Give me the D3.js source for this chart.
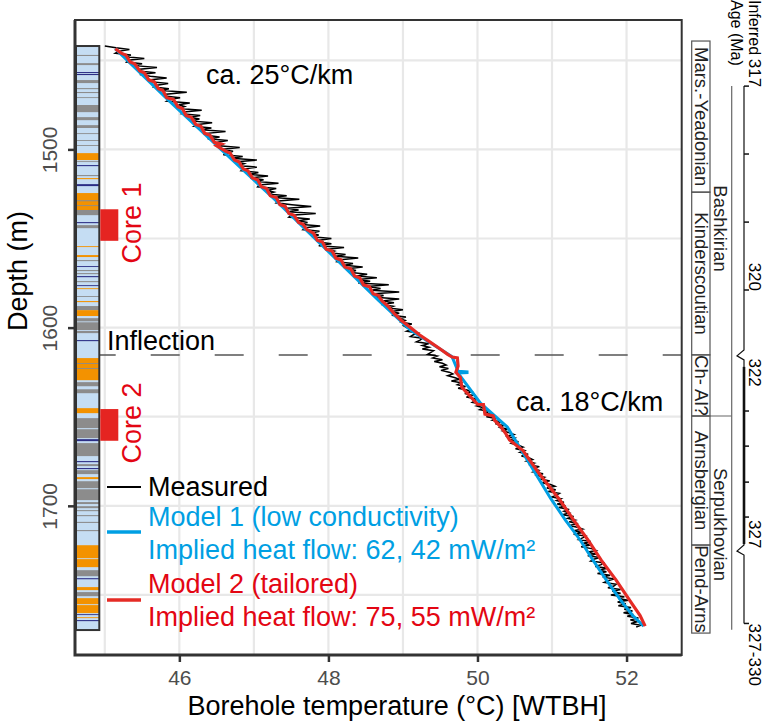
<!DOCTYPE html>
<html>
<head>
<meta charset="utf-8">
<script src="https://cdn.jsdelivr.net/npm/d3@7/dist/d3.min.js"></script>
<style>
body { margin: 0; background: #fff; }
text { font-family: "Liberation Sans", Arial, Helvetica, sans-serif; }
</style>
</head>
<body>
<div id="chart"></div>
<script>

// axis ticks and grid
var tempTicks = [46, 48, 50, 52];
var depthTicks = [1500, 1600, 1700];
var tempGrid = [45, 46, 47, 48, 49, 50, 51, 52];
var depthGrid = [1450, 1500, 1550, 1600, 1650, 1700, 1750];

// measured log, 1 m readings (depth m, temperature degC)
var measuredDepth = [
  1442,1443,1444,1445,1446,1447,1448,1449,1450,1451,1452,1453,1454,1455,1456,1457,1458,1459,1460,1461,
  1462,1463,1464,1465,1466,1467,1468,1469,1470,1471,1472,1473,1474,1475,1476,1477,1478,1479,1480,1481,
  1482,1483,1484,1485,1486,1487,1488,1489,1490,1491,1492,1493,1494,1495,1496,1497,1498,1499,1500,1501,
  1502,1503,1504,1505,1506,1507,1508,1509,1510,1511,1512,1513,1514,1515,1516,1517,1518,1519,1520,1521,
  1522,1523,1524,1525,1526,1527,1528,1529,1530,1531,1532,1533,1534,1535,1536,1537,1538,1539,1540,1541,
  1542,1543,1544,1545,1546,1547,1548,1549,1550,1551,1552,1553,1554,1555,1556,1557,1558,1559,1560,1561,
  1562,1563,1564,1565,1566,1567,1568,1569,1570,1571,1572,1573,1574,1575,1576,1577,1578,1579,1580,1581,
  1582,1583,1584,1585,1586,1587,1588,1589,1590,1591,1592,1593,1594,1595,1596,1597,1598,1599,1600,1601,
  1602,1603,1604,1605,1606,1607,1608,1609,1610,1611,1612,1613,1614,1615,1616,1617,1618,1619,1620,1621,
  1622,1623,1624,1625,1626,1627,1628,1629,1630,1631,1632,1633,1634,1635,1636,1637,1638,1639,1640,1641,
  1642,1643,1644,1645,1646,1647,1648,1649,1650,1651,1652,1653,1654,1655,1656,1657,1658,1659,1660,1661,
  1662,1663,1664,1665,1666,1667,1668,1669,1670,1671,1672,1673,1674,1675,1676,1677,1678,1679,1680,1681,
  1682,1683,1684,1685,1686,1687,1688,1689,1690,1691,1692,1693,1694,1695,1696,1697,1698,1699,1700,1701,
  1702,1703,1704,1705,1706,1707,1708,1709,1710,1711,1712,1713,1714,1715,1716,1717,1718,1719,1720,1721,
  1722,1723,1724,1725,1726,1727,1728,1729,1730,1731,1732,1733,1734,1735,1736,1737,1738,1739,1740,1741,
  1742,1743,1744,1745,1746,1747,1748,1749,1750,1751,1752,1753,1754,1755,1756,1757,1758,1759,1760,1761,
  1762,1763,1764,1765,1766,1767,1768];
var measuredTemp = [
  45.00,45.15,45.33,45.18,45.14,45.35,45.28,45.53,45.31,45.29,
  45.50,45.40,45.70,45.47,45.45,45.68,45.47,45.61,45.83,45.60,
  45.61,45.85,45.70,45.66,45.86,45.76,46.10,45.82,45.80,46.01,
  45.87,45.83,46.14,45.99,46.07,45.99,46.30,46.06,46.03,46.28,
  46.14,46.27,46.15,46.44,46.25,46.20,46.43,46.30,46.62,46.37,
  46.36,46.54,46.38,46.65,46.51,46.58,46.53,46.81,46.55,46.72,
  46.65,46.59,46.85,46.70,47.04,46.77,46.87,46.79,47.04,46.86,
  46.83,47.06,46.95,47.19,46.95,47.13,47.04,47.33,47.07,47.05,
  47.30,47.18,47.27,47.19,47.44,47.26,47.61,47.33,47.30,47.51,
  47.77,47.44,47.60,47.46,47.83,47.50,47.47,47.75,47.60,47.72,
  47.61,47.89,47.69,47.66,47.88,47.76,47.87,47.78,48.04,47.88,
  47.87,48.04,47.87,48.21,47.99,48.08,48.01,48.23,48.10,48.40,
  48.13,48.11,48.33,48.22,48.46,48.25,48.37,48.28,48.52,48.38,
  48.65,48.40,48.56,48.40,48.81,48.52,48.70,48.58,48.95,48.61,
  48.74,48.63,48.95,48.72,48.88,48.71,48.87,48.81,49.00,48.85,
  48.95,48.85,49.04,48.95,49.03,48.98,49.12,49.01,49.05,
  49.11,49.05,49.20,49.14,49.10,49.26,49.23,49.18,49.35,49.26,49.35,49.26,49.41,49.37,
  49.33,49.46,49.40,49.53,49.42,49.53,49.58,49.49,49.61,49.51,49.62,
  49.67,49.60,49.69,49.76,49.65,49.78,49.73,49.84,49.74,49.86,49.92,49.83,49.93,49.85,49.99,49.97,49.93,50.07,49.99,50.08,
  50.03,50.15,50.12,50.22,50.12,50.25,50.20,50.33,50.24,50.35,50.30,
  50.41,50.34,50.43,50.49,50.38,50.50,50.44,50.55,50.46,50.55,50.61,50.51,50.63,
  50.57,50.68,50.59,50.69,50.74,50.66,50.76,50.69,50.83,50.75,50.82,50.75,50.88,
  50.80,50.90,50.85,50.97,50.86,50.98,51.04,50.93,51.05,50.95,51.10,51.06,51.00,51.12,51.06,
  51.16,51.07,51.18,51.09,51.23,51.16,51.23,51.14,51.29,51.21,51.31,
  51.23,51.35,51.23,51.34,51.41,51.29,51.41,51.29,51.45,51.41,
  51.36,51.52,51.42,51.52,51.39,51.53,51.59,51.47,51.59,51.48,
  51.64,51.56,51.52,51.69,51.66,51.58,51.75,51.63,51.73,51.61,
  51.78,51.68,51.84,51.75,51.70,51.86,51.83,51.75,51.92,51.81,
  51.92,51.79,51.97,51.89,52.02,51.88,51.99,51.89,52.06,51.97,
  52.08,51.96,52.09,52.01,52.16,52.05,52.14,52.06,52.19,52.13];

// model 1 (low conductivity)
var model1Depth = [1443.5,1472.3,1500.4,1528.5,1544.7,1584.6,1601.4,1616.4,1624.5,1624.8,1625.2,1625.5,1642.4,1655.8,1695.7,1708.0,1719.3,1730.5,1741.7,1752.9,1761.4,1767.5];
var model1Temp = [45.14,45.85,46.57,47.29,47.69,48.67,49.10,49.66,49.74,49.86,49.86,49.74,50.04,50.40,50.98,51.18,51.38,51.55,51.73,51.92,52.08,52.23];

// model 2 (tailored)
var model2Depth = [1443.5,1446,1447,1451,1452,1456,1457,1461,1462,1466,1467,1471,1472,1476,1477,1481,1482,1486,1487,1491,
  1492,1496,1497,1498,1501,1502,1506,1507,1511,1512,1516,1517,1521,1522,1526,1527,1531,1532,1536,1537,
  1541,1542,1545,1547,1551,1552,1556,1557,1561,1562,1566,1567,1571,1572,1576,1577,1581,1582,1585,1588,
  1592,1596,1600,1604,1608,1612,1615,1616.5,1617,1621.5,1625,1628,1633.5,1643,1643.2,1648.5,1649.5,1652,1655.5,1659.5,
  1663,1669,1682,1697,1708,1719,1730.5,1741.7,1752.9,1761.4,1767.5];
var model2Temp = [45.14,45.22,45.28,45.34,45.40,45.47,45.53,45.59,45.66,45.72,45.78,45.83,45.92,45.98,46.04,46.09,46.16,46.22,46.29,46.34,
  46.41,46.47,46.56,46.50,46.62,46.68,46.74,46.80,46.86,46.92,46.98,47.05,47.10,47.17,47.22,47.30,47.35,47.42,47.47,47.54,
  47.60,47.66,47.71,47.80,47.85,47.92,47.97,48.05,48.10,48.17,48.22,48.30,48.35,48.42,48.47,48.55,48.60,48.67,48.72,48.80,
  48.88,48.98,49.10,49.22,49.36,49.50,49.60,49.66,49.73,49.74,49.71,49.77,49.79,50.00,50.08,50.10,50.21,50.23,50.31,50.38,
  50.43,50.61,50.83,51.11,51.29,51.48,51.66,51.86,52.04,52.18,52.25];

// lithology log
var lithTop = [1447.0,1451.6,1456.6,1457.7,1461.1,1465.6,1467.8,1470.7,1475.1,1481.9,1486.4,1490.9,1494.8,1497.6,1502.1,1506.6,1508.8,1514.4,1516.1,1519.5,
  1524.5,1528.5,1531.3,1534.0,1540.8,1542.5,1554.3,1559.3,1562.1,1565.5,1567.7,1569.4,1571.1,1573.9,1576.2,1577.9,1582.3,1585.1,1587.9,1590.2,
  1594.7,1596.5,1601.9,1607.0,1617.1,1619.9,1622.7,1630.6,1634.6,1645.2,1650.8,1656.4,1662.6,1664.8,1674.9,1676.6,1678.8,1680.0,1683.9,1686.2,
  1690.1,1697.9,1700.2,1702.4,1705.2,1709.0,1713.6,1722.1,1729.4,1736.1,1740.6,1745.6,1748.4,1751.8,1755.2,1760.8,1762.5,1764.1];
var lithBase = [1447.6,1452.7,1457.2,1458.3,1462.8,1466.2,1468.4,1471.2,1479.1,1483.6,1488.0,1491.4,1495.3,1498.1,1506.0,1507.1,1509.4,1515.0,1516.7,1520.6,
  1535.7,1529.1,1531.8,1536.9,1541.4,1544.2,1554.8,1560.4,1562.7,1566.0,1568.3,1570.0,1571.7,1574.5,1576.7,1578.4,1582.8,1585.7,1590.2,1593.5,
  1601.4,1597.0,1603.1,1607.6,1629.5,1620.4,1623.2,1632.9,1636.8,1648.0,1662.0,1657.0,1663.7,1672.1,1675.5,1677.7,1679.4,1682.2,1685.0,1696.8,
  1690.7,1699.0,1701.3,1703.0,1705.8,1709.6,1714.2,1734.4,1729.9,1739.5,1741.2,1747.3,1750.7,1760.2,1755.7,1761.3,1763.0,1764.7];
var lithType = ['G','G','N','N','G','G','G','G','G','G','G','G','G','G','O','G','N','G','O','N',
  'O','G','G','G','N','G','O','O','G','N','G','G','N','G','N','O','G','O','G','O',
  'G','L','G','N','O','G','G','G','G','O','G','L','N','G','N','G','N','G','O','G',
  'L','G','G','G','G','G','G','O','L','G','N','O','G','O','L','N','O','N'];
var lithLogTop = 1442.0, lithLogBase = 1769.7;

var coreNames = ['Core 1', 'Core 2'];
var coreTop = [1533.6, 1645.7];
var coreBase = [1551.3, 1663.5];

// stratigraphy
var stageNames = ['Mars.-Yeadonian', 'Kinderscoutian', 'Ch- Al?', 'Arnsbergian', 'Pend-Arns'];
var stageTop = [1439.2, 1524.0, 1615.3, 1649.6, 1722.0];
var stageBase = [1524.0, 1615.3, 1649.6, 1722.0, 1771.4];
var seriesNames = ['Bashkirian', 'Serpukhovian'];
var seriesTop = [1439.2, 1649.6];
var seriesBase = [1649.6, 1771.4];
var ageTickDepth = [1464.5, 1502.6, 1540.8, 1578.9, 1646.8, 1666.5, 1686.7, 1706.3, 1766.0];
var ageBreakDepth = [1615.3, 1724.8];
var ageLabels = ['317', '320', '322', '327', '327-330'];
var ageLabelDepth = [1464.5, 1578.9, 1617.3, 1723.3, 1766.0];
var ageLabelAnchor = ['end', 'end', 'start', 'end', 'start'];

var inflectionDepth = 1615.3;

var width = 768;
var height = 723;

var colors = { L: '#c5ddf3', G: '#8c8c8c', O: '#f39200', N: '#2b2d84' };
var blue = '#009fe3';
var red = '#e30613';

var svg = d3.select('#chart')
  .append('svg')
  .attr('width', width)
  .attr('height', height);

var x = d3.scaleLinear().domain([44.6, 52.74]).range([75, 681.7]);
var y = d3.scaleLinear().domain([1427.4, 1783.7]).range([20, 655]);

// grid
svg.selectAll('.vgrid')
  .data(tempGrid)
  .enter()
  .append('line')
  .attr('x1', function(d) { return x(d); })
  .attr('x2', function(d) { return x(d); })
  .attr('y1', 20).attr('y2', 655)
  .attr('stroke', '#e8e8e8')
  .attr('stroke-width', 2.2);

svg.selectAll('.hgrid')
  .data(depthGrid)
  .enter()
  .append('line')
  .attr('y1', function(d) { return y(d); })
  .attr('y2', function(d) { return y(d); })
  .attr('x1', 75).attr('x2', 681.7)
  .attr('stroke', '#e8e8e8')
  .attr('stroke-width', 2.2);

// inflection
svg.append('line')
  .attr('x1', 75).attr('x2', 681.7)
  .attr('y1', y(inflectionDepth)).attr('y2', y(inflectionDepth))
  .attr('stroke', '#555')
  .attr('stroke-width', 1.5)
  .attr('stroke-dasharray', '29,35')
  .attr('stroke-dashoffset', 52.3);

svg.append('text')
  .attr('x', 107).attr('y', y(inflectionDepth) - 5)
  .attr('style', 'font-size: 27px')
  .text('Inflection');

svg.append('text')
  .attr('x', 206).attr('y', 84)
  .attr('style', 'font-size: 27px')
  .text('ca. 25°C/km');

svg.append('text')
  .attr('x', 516).attr('y', 411)
  .attr('style', 'font-size: 27px')
  .text('ca. 18°C/km');

// curves
var line = d3.line()
  .x(function(d) { return x(d[1]); })
  .y(function(d) { return y(d[0]); });

svg.append('path')
  .attr('d', line(d3.zip(measuredDepth, measuredTemp)))
  .attr('fill', 'none')
  .attr('stroke', '#000')
  .attr('stroke-width', 1.5)
  .attr('stroke-linejoin', 'miter');

svg.append('path')
  .attr('d', line(d3.zip(model1Depth, model1Temp)))
  .attr('fill', 'none')
  .attr('stroke', blue)
  .attr('stroke-width', 3);

svg.append('path')
  .attr('d', line(d3.zip(model2Depth, model2Temp)))
  .attr('fill', 'none')
  .attr('stroke', '#e52b25')
  .attr('stroke-width', 3.2);

// lithology column
var colX = 76, colW = 23.3;
svg.append('rect')
  .attr('x', colX).attr('width', colW)
  .attr('y', y(lithLogTop)).attr('height', y(lithLogBase) - y(lithLogTop))
  .attr('fill', colors.L);

svg.selectAll('.lith')
  .data(lithTop)
  .enter()
  .append('rect')
  .attr('x', colX).attr('width', colW)
  .attr('y', function(d) { return y(d); })
  .attr('height', function(d, i) { return y(lithBase[i]) - y(d); })
  .attr('fill', function(d, i) { return colors[lithType[i]]; });

svg.append('rect')
  .attr('x', colX).attr('width', colW)
  .attr('y', y(lithLogTop)).attr('height', y(lithLogBase) - y(lithLogTop))
  .attr('fill', 'none')
  .attr('stroke', '#333')
  .attr('stroke-width', 2);

svg.selectAll('.core')
  .data(coreNames)
  .enter()
  .append('rect')
  .attr('x', 100.3).attr('width', 18)
  .attr('y', function(d, i) { return y(coreTop[i]); })
  .attr('height', function(d, i) { return y(coreBase[i]) - y(coreTop[i]); })
  .attr('fill', '#e52421');

svg.selectAll('.coreLabel')
  .data(coreNames)
  .enter()
  .append('text')
  .attr('transform', function(d, i) {
    var yc = (y(coreTop[i]) + y(coreBase[i])) / 2 - 2;
    return 'translate(141,' + yc + ') rotate(-90)';
  })
  .attr('text-anchor', 'middle')
  .attr('fill', red)
  .attr('style', 'font-size: 27px')
  .text(function(d) { return d; });

// legend
var legendRows = [
  { y: 487, color: '#000', w: 2, lines: [[496, 'Measured']] },
  { y: 532, color: blue, w: 3.5, lines: [[526, 'Model 1 (low conductivity)'], [559, 'Implied heat flow: 62, 42 mW/m²']] },
  { y: 600, color: '#e52b25', w: 3.5, lines: [[593, 'Model 2 (tailored)'], [626, 'Implied heat flow: 75, 55 mW/m²']] }
];
legendRows.forEach(function(r) {
  svg.append('line')
    .attr('x1', 107).attr('x2', 141)
    .attr('y1', r.y).attr('y2', r.y)
    .attr('stroke', r.color)
    .attr('stroke-width', r.w);
  r.lines.forEach(function(t) {
    svg.append('text')
      .attr('x', 148).attr('y', t[0])
      .attr('fill', r.color === '#e52b25' ? red : r.color)
      .attr('style', 'font-size: 27px')
      .text(t[1]);
  });
});

// frame + axes
svg.append('rect')
  .attr('x', 75).attr('y', 20)
  .attr('width', 606.7).attr('height', 635)
  .attr('fill', 'none')
  .attr('stroke', '#333')
  .attr('stroke-width', 2);

svg.append('path')
  .attr('d', 'M75,20V655H681.7')
  .attr('fill', 'none')
  .attr('stroke', '#333')
  .attr('stroke-width', 3);

var xAxis = svg.append('g')
  .attr('transform', 'translate(0,655)')
  .call(d3.axisBottom(x).tickValues(tempTicks).tickSize(7).tickPadding(8));
xAxis.select('.domain').remove();
xAxis.selectAll('line').attr('stroke', '#333').attr('stroke-width', 2.5);
xAxis.selectAll('text')
  .attr('fill', '#4d4d4d')
  .attr('style', 'font-size: 21px');

var yAxis = svg.append('g')
  .attr('transform', 'translate(75,0)')
  .call(d3.axisLeft(y).tickValues(depthTicks).tickFormat(d3.format('d')).tickSize(7));
yAxis.select('.domain').remove();
yAxis.selectAll('line').attr('stroke', '#333').attr('stroke-width', 2.5);
yAxis.selectAll('text')
  .attr('transform', 'rotate(-90)')
  .attr('x', 0).attr('y', -18).attr('dy', 0)
  .attr('text-anchor', 'middle')
  .attr('fill', '#4d4d4d')
  .attr('style', 'font-size: 21px');

svg.append('text')
  .attr('x', 397).attr('y', 715)
  .attr('text-anchor', 'middle')
  .attr('style', 'font-size: 27px')
  .text('Borehole temperature (°C) [WTBH]');

svg.append('text')
  .attr('transform', 'translate(27,271) rotate(-90)')
  .attr('text-anchor', 'middle')
  .attr('style', 'font-size: 27px')
  .text('Depth (m)');

// stratigraphic panel
var sx0 = 691.7, sx1 = 710, sx2 = 731.7, ax = 744;

svg.selectAll('.stage')
  .data(stageNames)
  .enter()
  .append('rect')
  .attr('x', sx0).attr('width', sx1 - sx0)
  .attr('y', function(d, i) { return y(stageTop[i]); })
  .attr('height', function(d, i) { return y(stageBase[i]) - y(stageTop[i]); })
  .attr('fill', 'none')
  .attr('stroke', '#555')
  .attr('stroke-width', 1.2);

svg.selectAll('.stageLabel')
  .data(stageNames)
  .enter()
  .append('text')
  .attr('transform', function(d, i) {
    var yc = (y(stageTop[i]) + y(stageBase[i])) / 2;
    return 'translate(695,' + yc + ') rotate(90)';
  })
  .attr('text-anchor', 'middle')
  .attr('fill', '#222')
  .attr('style', 'font-size: 18.5px')
  .text(function(d) { return d; });

svg.append('line')
  .attr('x1', sx0).attr('x2', sx2)
  .attr('y1', y(seriesBase[0])).attr('y2', y(seriesBase[0]))
  .attr('stroke', '#666').attr('stroke-width', 1.2);

svg.append('line')
  .attr('x1', sx2).attr('x2', sx2)
  .attr('y1', y(ageTickDepth[0])).attr('y2', y(1769.5))
  .attr('stroke', '#666').attr('stroke-width', 1.2);

svg.selectAll('.seriesLabel')
  .data(seriesNames)
  .enter()
  .append('text')
  .attr('transform', function(d, i) {
    var yc = (y(seriesTop[i]) + y(seriesBase[i])) / 2;
    return 'translate(714,' + yc + ') rotate(90)';
  })
  .attr('text-anchor', 'middle')
  .attr('fill', '#222')
  .attr('style', 'font-size: 18.5px')
  .text(function(d) { return d; });

svg.append('text')
  .attr('transform', 'translate(749,0) rotate(90)')
  .attr('style', 'font-size: 16px')
  .text('Inferred');
svg.append('text')
  .attr('transform', 'translate(731,0) rotate(90)')
  .attr('style', 'font-size: 16px')
  .text('Age (Ma)');

// age axis with breaks
var yTop = y(ageTickDepth[0]);
var yBottom = y(ageTickDepth[ageTickDepth.length - 1]);
var b1 = y(ageBreakDepth[0]), b2 = y(ageBreakDepth[1]);
function zig(yb) {
  return 'L' + ax + ',' + (yb - 5) + 'L' + (ax - 7) + ',' + (yb + 1) + 'L' + ax + ',' + (yb + 5);
}
svg.append('path')
  .attr('d', 'M' + ax + ',' + yTop + zig(b1) + zig(b2) + 'L' + ax + ',' + yBottom)
  .attr('fill', 'none')
  .attr('stroke', '#111')
  .attr('stroke-width', 1.2);
svg.append('line')
  .attr('x1', ax).attr('x2', ax)
  .attr('y1', b1 + 12).attr('y2', b2 - 6)
  .attr('stroke', '#111')
  .attr('stroke-width', 2.6);

svg.selectAll('.ageTick')
  .data(ageTickDepth)
  .enter()
  .append('line')
  .attr('x1', ax).attr('x2', ax + 5)
  .attr('y1', function(d) { return y(d); })
  .attr('y2', function(d) { return y(d); })
  .attr('stroke', '#111')
  .attr('stroke-width', 1.5);

svg.selectAll('.ageLabel')
  .data(ageLabels)
  .enter()
  .append('text')
  .attr('transform', function(d, i) { return 'translate(749,' + (y(ageLabelDepth[i]) + (ageLabelAnchor[i] === 'end' ? 1 : 0)) + ') rotate(90)'; })
  .attr('text-anchor', function(d, i) { return ageLabelAnchor[i]; })
  .attr('style', 'font-size: 17px')
  .text(function(d) { return d; });

</script>
</body>
</html>
